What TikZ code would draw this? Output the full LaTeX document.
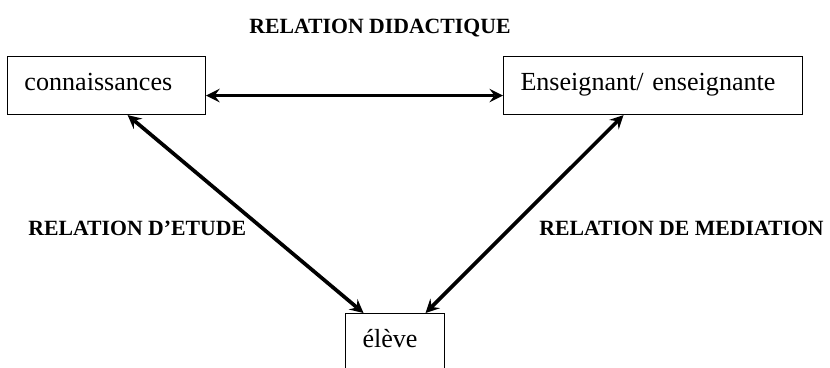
\documentclass[tikz,border=0pt]{standalone}
\usepackage{fontspec}
\setmainfont{Liberation Serif}

\begin{document}
\begin{tikzpicture}[x=0.46pt,y=-0.46pt,
	pole/.style={draw,line width=0.5pt,anchor=north west,align=left,
		inner xsep=7.8pt,minimum height=26.68pt,
		text height=8pt,text depth=3.4pt,font=\fontsize{12}{14}\selectfont},
	relation/.style={inner sep=0pt,font=\fontsize{10}{12}\selectfont\bfseries},
	lien/.style={line width=1.7pt,stealth-stealth}]
	\useasboundingbox (0,0) rectangle (830,368);

	\node[pole,minimum width=91.08pt,text width=75.48pt] (savoir) at (7,56) {connaissances};
	\node[pole,minimum width=137.54pt,text width=121.94pt] (ens) at (503,56) {Enseignant/ enseignante};
	\node[pole,minimum width=45.54pt,text width=29.94pt] (eleve) at (345,313) {élève};

	\draw[lien] ([yshift=-4.6pt]savoir.east) to ([yshift=-4.6pt]ens.west);
	\draw[lien] ([xshift=9.7pt]savoir.south) to ([xshift=-14.5pt]eleve.north);
	\draw[lien] ([xshift=-13.57pt]ens.south) to ([xshift=14.03pt]eleve.north);

	\node[relation,anchor=base] (didac) at (380,33) {RELATION DIDACTIQUE};
	\node[relation,anchor=base west] (etude) at (28,235) {RELATION D’ETUDE};
	\node[relation,anchor=base west] (media) at (539,235) {RELATION DE MEDIATION};
\end{tikzpicture}
\end{document}
